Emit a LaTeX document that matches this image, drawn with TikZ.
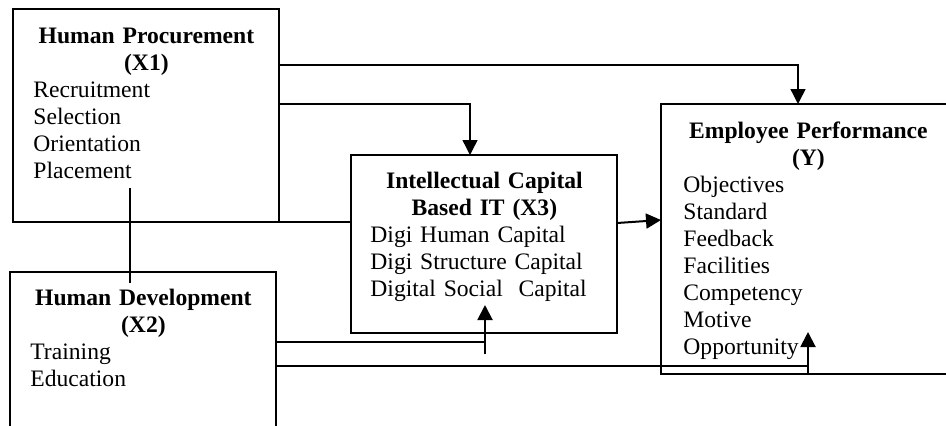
\documentclass[tikz,border=0pt]{standalone}
\usepackage{fontspec}
\setmainfont{Liberation Serif}
\usetikzlibrary{arrows.meta,calc,positioning}

\begin{document}
\begin{tikzpicture}[x=0.5pt, y=-0.5pt, >={Triangle[length=7.5pt,width=7.5pt]}]
	\tikzstyle{box} = [draw, line width=1pt, anchor=north west, inner sep=0pt, outer sep=0pt]
	\tikzstyle{txt} = [anchor=base west, inner sep=0pt, align=left, font=\fontsize{11.8}{13.5}\selectfont]
	\tikzstyle{link} = [line width=0.7pt]
	\tikzstyle{arr} = [line width=1pt, ->]

	\useasboundingbox (0,0) rectangle (946,425);
	\clip (0,0) rectangle (946,425);

	% boxes
	\node[box, minimum width=133pt, minimum height=106.5pt] (X1) at (13,9) {};
	\node[box, minimum width=133pt, minimum height=100pt] (X2) at (10,272) {};
	\node[box, minimum width=133pt, minimum height=89pt] (X3) at (351,155) {};
	\node[box, minimum width=150pt, minimum height=135pt] (Y) at (661,104) {};

	% texts
	\node[txt, text width=113pt] (tX1) at ($(X1.north west)+(20,34)$)
		{{\centering\bfseries Human Procurement\\(X1)\par}Recruitment\\Selection\\Orientation\\Placement};
	\node[txt, text width=113pt] (tX2) at ($(X2.north west)+(20,33)$)
		{{\centering\bfseries Human Development\\(X2)\par}Training\\Education};
	\node[txt, text width=114pt] (tX3) at ($(X3.north west)+(19,33)$)
		{{\centering\bfseries Intellectual Capital\\Based IT (X3)\par}Digi Human Capital\\Digi Structure Capital\\Digital Social~~Capital};
	\node[txt, text width=125pt] (tY) at ($(Y.north west)+(22,34)$)
		{{\centering\bfseries Employee Performance\\(Y)\par}Objectives\\Standard\\Feedback\\Facilities\\Competency\\Motive\\Opportunity};

	% connectors
	\coordinate (j1) at ($(X3.south west)+(134,9)$);
	\coordinate (j2) at ($(Y.south west)+(147,-8)$);

	\draw[link, ->] ($(X1.north east)+(0,56)$) -| ($(Y.north west)+(137,0)$);
	\draw[link, ->] ($(X1.north east)+(0,95)$) -| ($(X3.north west)+(119,0)$);
	\draw[link] ($(X1.north west)+(117,179)$) -- ($(X2.north west)+(120,11)$);
	\draw[link] ($(X1.south west)+(117,0)$) -- ($(X3.north west)+(0,67)$);
	\draw[arr] ($(X3.north east)+(0,68)$) -- ($(Y.north west)+(0,116)$);
	\draw[link] ($(X2.north east)+(0,70)$) -- (j1);
	\draw[arr] ($(j1)+(0,12)$) -- ($(j1)+(0,-37)$);
	\draw[link] ($(X2.north east)+(0,94)$) -- (j2);
	\draw[arr] ($(j2)+(0,7)$) -- ($(j2)+(0,-34)$);
\end{tikzpicture}
\end{document}
